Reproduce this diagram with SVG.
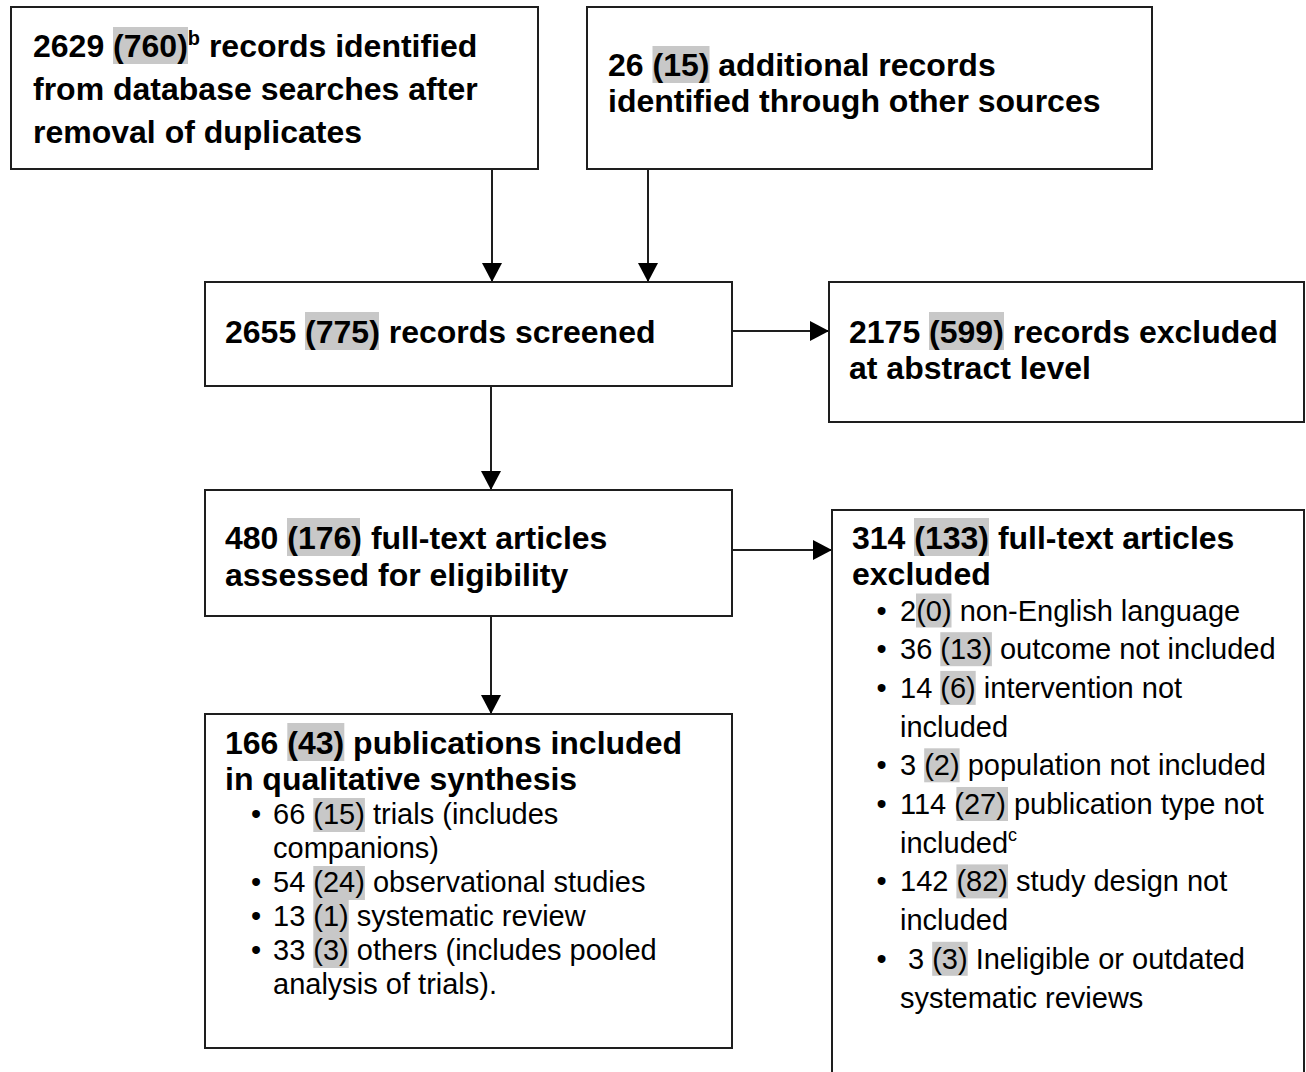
<svg xmlns="http://www.w3.org/2000/svg" width="1306" height="1072" viewBox="0 0 1306 1072">
<style>
.box{fill:#fff;stroke:#1e1e1e;stroke-width:2}
.hl{fill:#c8c8c8}
.b{font-family:"Liberation Sans",Arial,sans-serif;font-weight:bold;font-size:32px;fill:#000}
.r{font-family:"Liberation Sans",Arial,sans-serif;font-size:29px;fill:#000}
.con{stroke:#1e1e1e;stroke-width:2;fill:none;marker-end:url(#ah)}
</style>
<defs>
<marker id="ah" markerUnits="userSpaceOnUse" markerWidth="20" markerHeight="20" refX="19" refY="10" orient="auto" viewBox="0 0 20 20">
<path d="M0,0 L19,10 L0,20 z" fill="#000"/>
</marker>
</defs>
<rect width="1306" height="1072" fill="#fff"/>
<g id="connectors">
<line class="con" x1="492" y1="169" x2="492" y2="282"/>
<line class="con" x1="648" y1="169" x2="648" y2="282"/>
<line class="con" x1="733" y1="331" x2="829" y2="331"/>
<line class="con" x1="491" y1="386" x2="491" y2="490"/>
<line class="con" x1="733" y1="550" x2="832" y2="550"/>
<line class="con" x1="491" y1="616" x2="491" y2="714"/>
</g>
<g id="n1">
<rect class="box" x="11" y="7" width="527" height="162"/>
<rect class="hl" x="113" y="27" width="75" height="37"/>
<text class="b" x="33" y="57">2629 (760)<tspan font-size="20" dy="-12">b</tspan><tspan dy="12"> records identified</tspan></text>
<text class="b" x="33" y="100">from database searches after</text>
<text class="b" x="33" y="143">removal of duplicates</text>
</g>
<g id="n2">
<rect class="box" x="587" y="7" width="565" height="162"/>
<rect class="hl" x="652.5" y="46" width="57" height="37"/>
<text class="b" x="608" y="76">26 (15) additional records</text>
<text class="b" x="608" y="112">identified through other sources</text>
</g>
<g id="n3">
<rect class="box" x="205" y="282" width="527" height="104"/>
<rect class="hl" x="305" y="312" width="74" height="38"/>
<text class="b" x="225" y="343">2655 (775) records screened</text>
</g>
<g id="n4">
<rect class="box" x="829" y="282" width="475" height="140"/>
<rect class="hl" x="929" y="312" width="75" height="38"/>
<text class="b" x="849" y="343">2175 (599) records excluded</text>
<text class="b" x="849" y="379">at abstract level</text>
</g>
<g id="n5">
<rect class="box" x="205" y="490" width="527" height="126"/>
<rect class="hl" x="287" y="518" width="73" height="38"/>
<text class="b" x="225" y="549">480 (176) full-text articles</text>
<text class="b" x="225" y="586">assessed for eligibility</text>
</g>
<g id="n6">
<rect class="box" x="832" y="510" width="472" height="580"/>
<rect class="hl" x="914" y="518" width="75" height="38"/>
<rect class="hl" x="916" y="593.5" width="35.5" height="34"/>
<rect class="hl" x="940.3" y="632.2" width="51.6" height="34"/>
<rect class="hl" x="940.3" y="670.9" width="35.4" height="34"/>
<rect class="hl" x="924.2" y="748.3" width="35.4" height="34"/>
<rect class="hl" x="956.4" y="787" width="51.6" height="34"/>
<rect class="hl" x="956.4" y="864.4" width="51.6" height="34"/>
<rect class="hl" x="932.2" y="941.8" width="35.5" height="34"/>
<text class="b" x="852" y="549">314 (133) full-text articles</text>
<text class="b" x="852" y="585">excluded</text>
<text class="r" x="876.5" y="620.5">•</text>
<text class="r" x="900" y="620.5">2(0) non-English language</text>
<text class="r" x="876.5" y="659.2">•</text>
<text class="r" x="900" y="659.2">36 (13) outcome not included</text>
<text class="r" x="876.5" y="697.9">•</text>
<text class="r" x="900" y="697.9">14 (6) intervention not</text>
<text class="r" x="900" y="736.6">included</text>
<text class="r" x="876.5" y="775.3">•</text>
<text class="r" x="900" y="775.3">3 (2) population not included</text>
<text class="r" x="876.5" y="814">•</text>
<text class="r" x="900" y="814">114 (27) publication type not</text>
<text class="r" x="900" y="852.7">included<tspan font-size="18" dy="-12">c</tspan></text>
<text class="r" x="876.5" y="891.4">•</text>
<text class="r" x="900" y="891.4">142 (82) study design not</text>
<text class="r" x="900" y="930.1">included</text>
<text class="r" x="876.5" y="968.8">•</text>
<text class="r" x="908" y="968.8">3 (3) Ineligible or outdated</text>
<text class="r" x="900" y="1007.5">systematic reviews</text>
</g>
<g id="n7">
<rect class="box" x="205" y="714" width="527" height="334"/>
<rect class="hl" x="287.3" y="723" width="57" height="38"/>
<rect class="hl" x="313.3" y="798" width="51.6" height="34"/>
<rect class="hl" x="313.3" y="866" width="51.6" height="34"/>
<rect class="hl" x="313.3" y="900" width="35.4" height="34"/>
<rect class="hl" x="313.3" y="934" width="35.4" height="34"/>
<text class="b" x="225" y="754">166 (43) publications included</text>
<text class="b" x="225" y="790">in qualitative synthesis</text>
<text class="r" x="251" y="824">•</text>
<text class="r" x="273" y="824">66 (15) trials (includes</text>
<text class="r" x="273" y="858">companions)</text>
<text class="r" x="251" y="892">•</text>
<text class="r" x="273" y="892">54 (24) observational studies</text>
<text class="r" x="251" y="926">•</text>
<text class="r" x="273" y="926">13 (1) systematic review</text>
<text class="r" x="251" y="960">•</text>
<text class="r" x="273" y="960">33 (3) others (includes pooled</text>
<text class="r" x="273" y="994">analysis of trials).</text>
</g>
</svg>
